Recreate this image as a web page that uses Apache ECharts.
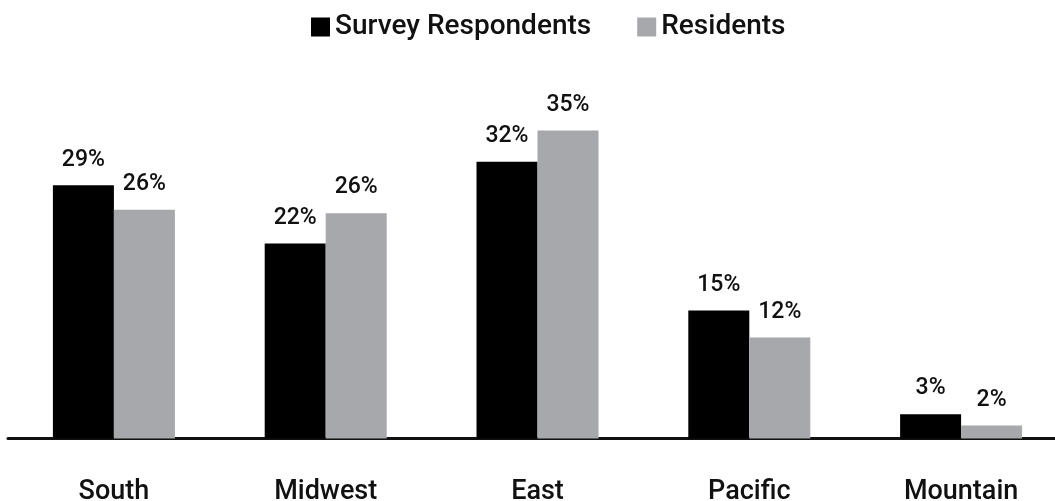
<!DOCTYPE html>
<html>
<head>
<meta charset="utf-8">
<script src="https://cdn.jsdelivr.net/npm/echarts@6/dist/echarts.min.js"></script>
<style>
  html, body { margin: 0; padding: 0; background: #fff; }
  #chart { width: 1055px; height: 501px; }
</style>
</head>
<body>
<div id="chart"></div>
<script>
// data (labels are rounded in the original)
var regions = ['South', 'Midwest', 'East', 'Pacific', 'Mountain']
var surveyRespondents = [29.1, 22.4, 31.8, 14.7, 2.8]
var residents = [26.3, 25.9, 35.4, 11.6, 1.5]

var font = 'Roboto, "Liberation Sans", Arial, sans-serif'

var chart = echarts.init(document.getElementById('chart'))

function valueLabel() {
  return {
    show: true,
    position: 'top',
    distance: 14,
    fontFamily: font,
    fontWeight: 500,
    fontSize: 23,
    color: '#111',
    formatter: function (p) {
      return Math.round(p.value) + '%'
    }
  }
}

chart.setOption({
  animation: false,
  legend: {
    left: 306,
    top: 8,
    itemWidth: 19,
    itemHeight: 19,
    itemGap: 46,
    icon: 'rect',
    textStyle: {
      fontFamily: font,
      fontWeight: 500,
      fontSize: 28,
      color: '#111'
    },
    data: ['Survey Respondents', 'Residents']
  },
  grid: {
    left: 8,
    right: -12,
    top: 90.5,
    bottom: 62.5,
    outerBoundsMode: 'none'
  },
  xAxis: {
    type: 'category',
    data: regions,
    axisTick: { show: false },
    axisLine: {
      lineStyle: { color: '#111', width: 3 }
    },
    axisLabel: {
      margin: 40,
      fontFamily: font,
      fontWeight: 500,
      fontSize: 27,
      color: '#111'
    }
  },
  yAxis: {
    type: 'value',
    min: 0,
    max: 40,
    show: false,
    splitLine: { show: false }
  },
  series: [{
    name: 'Survey Respondents',
    type: 'bar',
    barWidth: 61,
    barGap: 0,
    itemStyle: { color: '#000' },
    label: valueLabel(),
    data: surveyRespondents
  }, {
    name: 'Residents',
    type: 'bar',
    barWidth: 61,
    itemStyle: { color: '#a7a8ab' },
    label: valueLabel(),
    data: residents
  }]
})
</script>
</body>
</html>
